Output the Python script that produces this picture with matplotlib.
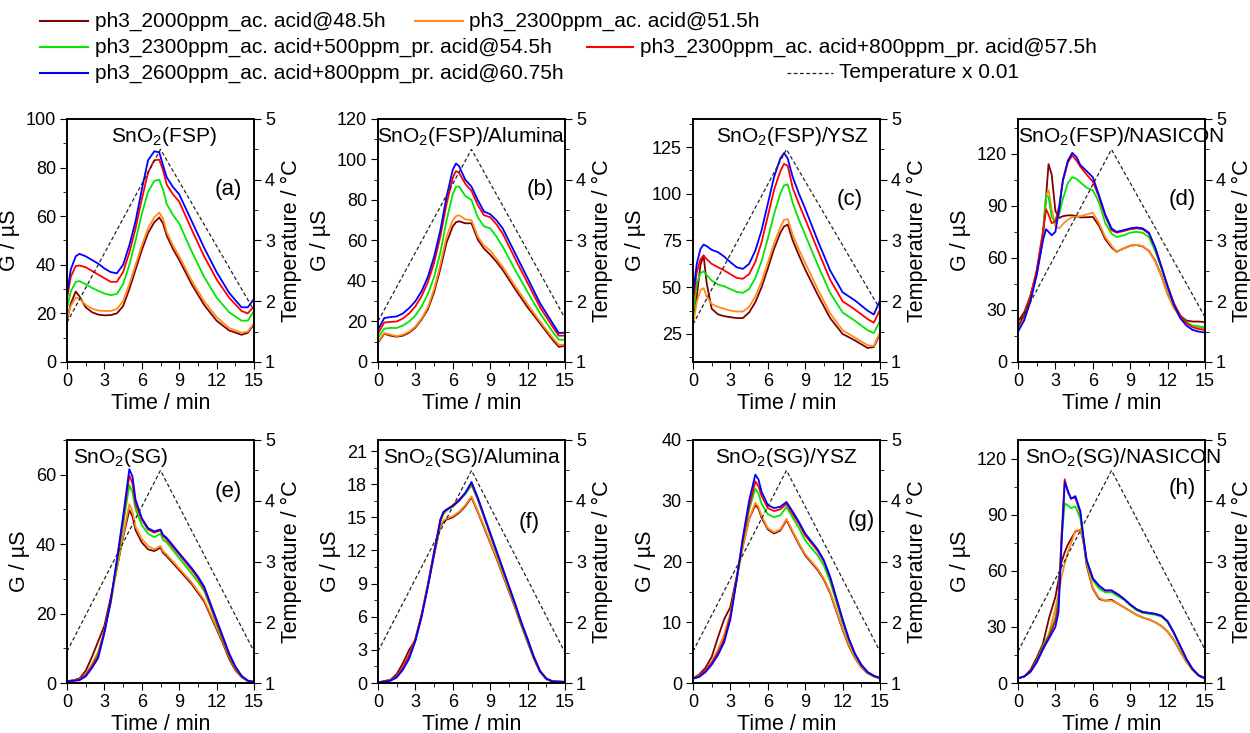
"""Conductance transients of SnO2 sensors under PH3 / acid exposure, 8 panels."""

import matplotlib
matplotlib.use("Agg")
import matplotlib.pyplot as plt
from matplotlib.lines import Line2D
from matplotlib.ticker import MultipleLocator

# ---------------------------------------------------------------------------
# Data
# series order: 1 = 2000ppm ac., 2 = 2300ppm ac., 3 = 2300 ac.+500 pr.,
#               4 = 2300 ac.+800 pr., 5 = 2600 ac.+800 pr.
# ---------------------------------------------------------------------------

labels = [
    "ph3_2000ppm_ac. acid@48.5h",
    "ph3_2300ppm_ac. acid@51.5h",
    "ph3_2300ppm_ac. acid+500ppm_pr. acid@54.5h",
    "ph3_2300ppm_ac. acid+800ppm_pr. acid@57.5h",
    "ph3_2600ppm_ac. acid+800ppm_pr. acid@60.75h",
]
colors = ["#800000", "#FF8C1A", "#00E600", "#FF0000", "#0000FF"]

temp_t = [0, 7.5, 15]

# (a) SnO2(FSP)
t_a = [0, 0.3, 0.7, 1, 1.5, 2, 2.5, 3, 3.5, 4, 4.5, 5, 5.5, 6, 6.5, 7, 7.4, 7.7,
       8, 8.5, 9, 10, 11, 12, 13, 14, 14.5, 15]
a1 = [17, 24, 29, 27, 22.5, 20.5, 19.5, 19.2, 19.3, 20, 23, 30, 38, 46, 53, 57.5,
      59.5, 57, 52, 46.5, 42, 32, 23.5, 17, 13, 11.2, 12, 15.5]
a2 = [18, 23, 26.5, 26, 23.5, 22, 21.2, 21, 21, 21.8, 25, 32, 40, 48, 55, 59.5,
      61.5, 59, 53.5, 48, 43.5, 33.5, 25, 18.5, 14, 12, 12.5, 16]
a3 = [22, 29, 33, 33.3, 32, 30.5, 29.3, 28.2, 27.5, 28, 32, 40, 50, 61, 70, 74.5,
      75, 71, 65, 60.5, 57, 45.5, 35, 26.5, 20.5, 17, 17, 21]
a4 = [26, 35, 39.5, 39.7, 39, 37.5, 36, 34.5, 33, 33, 37, 45, 55, 67, 78, 83,
      83.3, 79, 73, 69, 66, 54.5, 43.5, 34, 26.5, 21, 20, 23]
a5 = [28, 38, 43.5, 44.5, 43.5, 42, 40.5, 38.5, 37, 36.5, 40, 48, 58, 71, 83, 86.7,
      86.3, 81, 76, 72, 69, 58, 47, 37, 28.5, 22.5, 22.5, 26]
temp_a = [1.65, 4.5, 1.85]

# (b) SnO2(FSP)/Alumina
t_b = [0, 0.5, 1, 1.5, 2, 2.5, 3, 3.5, 4, 4.5, 5, 5.5, 6, 6.25, 6.5, 7, 7.5, 8,
       8.5, 9, 9.5, 10, 11, 12, 13, 14, 14.5, 15]
b1 = [9.5, 14, 13, 12.5, 13, 14.5, 17, 21, 26, 34.5, 46, 59, 67, 69, 69.5, 68.5,
      68.5, 60.5, 56, 53, 49.5, 45.5, 36, 27, 19, 11, 7.5, 8]
b2 = [10, 14.3, 13.5, 12.8, 13.5, 15, 17.5, 21.5, 27, 36, 48, 62, 70, 72, 72.5,
      70.5, 70, 62, 57.5, 55, 51, 47, 37.5, 28.5, 20, 12, 8.5, 8.5]
b3 = [12, 16.5, 16.8, 16.8, 18, 20, 23, 27.5, 33.5, 42, 54, 70, 83, 86.5, 86.7,
      82, 80, 71.5, 67, 66, 62, 57, 45.5, 34.5, 24, 15, 11, 11]
b4 = [14, 19.5, 19.8, 20, 21.5, 24, 27.5, 32.5, 39.5, 49, 62, 78, 91, 94.3, 93.5,
      88, 84.5, 77.5, 72.5, 71.5, 68, 63.5, 51, 39, 27, 17.5, 13, 13]
b5 = [16, 21.7, 22.2, 22.5, 24, 26.6, 30, 35, 42, 52, 65, 81.7, 95, 98, 96.8, 90,
      86.6, 80, 74.3, 73, 70, 66, 53.7, 41.4, 29, 19.2, 14.3, 14.5]
temp_b = [1.67, 4.5, 1.72]

# (c) SnO2(FSP)/YSZ
t_c = [0, 0.3, 0.6, 0.85, 1.1, 1.5, 2, 2.5, 3, 3.5, 4, 4.5, 5, 5.5, 6, 6.5, 7,
       7.3, 7.6, 8, 8.5, 9, 10, 11, 12, 13, 14, 14.5, 15]
c1 = [32, 45, 62, 67, 52, 38.5, 35.5, 34.5, 34, 33.5, 33.5, 36.5, 42, 50, 60, 70.5,
      79, 82.5, 83.5, 75, 67, 59.5, 46, 33.5, 25, 21.5, 17.5, 18, 25]
c2 = [30, 42, 48.5, 49.5, 45, 41, 39.5, 38.5, 37.5, 37, 37, 39.5, 45, 53, 63, 73.5,
      82, 86, 86.5, 78, 70, 63, 49, 36, 27, 23, 19, 18.5, 26]
c3 = [36, 52, 57.5, 58.5, 56.5, 53.5, 51.5, 50.5, 49, 47.5, 47, 49, 55, 64, 76, 89,
      100, 104.5, 105, 95, 86, 78, 62, 47, 36.5, 32, 27, 25.5, 32]
c4 = [42, 58, 65, 67, 65, 62.5, 60.7, 59, 57, 55, 54.5, 57, 63.5, 74, 88, 102, 112,
      116, 115, 103, 94.5, 86.5, 70, 54, 42.5, 38, 33, 31, 38]
c5 = [46, 62.5, 70.5, 72.8, 72, 70, 68.8, 66.4, 63.4, 60.7, 59.8, 62.5, 69.6, 80.4,
      94.6, 108.9, 118.8, 121.8, 118.8, 108.9, 100, 92, 75, 59, 47.3, 42.9, 37.5,
      35.4, 42.9]
temp_c = [1.62, 4.5, 1.87]

# (d) SnO2(FSP)/NASICON
t_d = [0, 0.5, 1, 1.5, 2, 2.25, 2.45, 2.7, 3, 3.3, 3.6, 4, 4.35, 4.7, 5, 5.5, 6,
       6.5, 7, 7.5, 7.9, 8.5, 9, 9.5, 10, 10.5, 11, 11.5, 12, 12.5, 13, 13.5, 14,
       14.5, 15]
d1 = [23.3, 28.7, 38.3, 51.7, 70.8, 95, 114, 108, 87, 83, 84, 84.5, 84.5, 84, 83.3,
      83.4, 83.6, 78.5, 70.8, 66, 63.5, 65.5, 67, 67.4, 66.6, 64, 58.4, 49.8, 39.2,
      31.6, 26.8, 23.9, 23.3, 23.3, 23]
d2 = [20, 26, 37, 51, 72, 96, 99, 88, 78, 77, 79.5, 82, 83.5, 83.5, 84, 85, 86, 80,
      72, 67, 63.5, 65.5, 67, 67.5, 66.8, 64, 58, 49.5, 39, 31, 26, 22.5, 20.5, 20,
      19.5]
d3 = [20, 27, 38, 52, 75, 96, 95, 84, 80, 85, 94, 103, 106.5, 105.5, 103.5, 100.5,
      99, 92, 80, 74, 72, 73, 74.5, 75, 74.5, 72, 64, 54, 43, 33, 27, 23, 21, 20.5,
      20]
d4 = [20, 27, 38, 53, 75, 88, 85, 80, 81, 90, 104, 115, 119, 116, 112.5, 108, 104,
      95, 84, 76, 74.5, 75.5, 76.5, 77, 76.5, 74, 66, 55, 44, 34, 27, 22.5, 20, 19,
      18.5]
d5 = [17.5, 24, 35, 50, 70, 76.5, 75, 73, 75, 88, 105, 116, 120.5, 118, 113.5, 110,
      106.5, 96, 85, 77, 75, 76, 77, 77.5, 77, 74.5, 66, 55, 43.5, 33, 25.5, 21,
      18.5, 17.5, 17]
temp_d = [1.6, 4.5, 1.74]

# (e) SnO2(SG)
t_e = [0, 0.5, 1, 1.5, 2, 2.5, 3, 3.5, 4, 4.5, 5, 5.25, 5.5, 6, 6.5, 7, 7.5, 7.7,
       8, 9, 10, 10.5, 11, 11.5, 12, 12.5, 13, 13.5, 14, 14.5, 15]
e1 = [0.5, 0.8, 1.3, 3.5, 7.5, 12, 16.5, 24.5, 33, 42, 49.8, 48, 44, 40.5, 38.5,
      38, 39, 37.5, 36.5, 32.5, 28.5, 26, 23.5, 19.5, 15.5, 11.5, 7, 3.7, 1.7, 0.6,
      0.3]
e2 = [0.5, 0.7, 1, 2.5, 5.5, 9, 15, 23, 33, 42.5, 51.5, 49.5, 45, 41.5, 39.5, 38.5,
      39.5, 38, 37, 33, 29, 26.5, 24, 20, 16, 12, 7.5, 4, 1.8, 0.6, 0.3]
e3 = [0.5, 0.7, 1, 2.3, 5, 8.5, 15, 23, 34, 45.5, 57, 55, 50, 45.5, 43, 42, 43,
      41.2, 40.5, 36, 31.5, 29.2, 26.5, 22, 17, 12.3, 7.8, 4.2, 1.8, 0.6, 0.3]
e4 = [0.5, 0.7, 1, 2.2, 4.8, 8, 15, 23.5, 35, 47, 59.8, 57.5, 51.5, 47, 44.2, 43.3,
      44, 42.3, 41.3, 37, 32.6, 30.2, 27.2, 22.5, 17.6, 12.8, 8, 4.4, 1.9, 0.6, 0.3]
e5 = [0.5, 0.6, 0.8, 1.9, 4.3, 7.2, 14.4, 23.5, 35.5, 48, 61.6, 59.5, 52.8, 47.5,
      44.6, 43.7, 44.2, 42.7, 41.8, 37.4, 33.1, 30.7, 27.8, 23, 18.2, 13.4, 8.6,
      4.8, 2.1, 0.7, 0.3]
temp_e = [1.52, 4.5, 1.52]

# (f) SnO2(SG)/Alumina
t_f = [0, 1, 1.5, 2, 2.5, 3, 3.5, 4, 4.5, 5, 5.25, 5.5, 6, 6.5, 7, 7.5, 8, 8.5, 9,
       9.5, 10, 10.5, 11, 11.5, 12, 12.5, 13, 13.5, 14, 15]
f1 = [0.05, 0.3, 0.8, 1.8, 3, 3.9, 6.1, 8.8, 11.6, 14.2, 14.6, 14.8, 15, 15.4, 16,
      16.8, 15.5, 14.1, 12.7, 11.3, 9.8, 8.3, 6.8, 5.2, 3.7, 2.2, 1, 0.35, 0.12, 0.1]
f2 = [0.05, 0.25, 0.6, 1.4, 2.5, 4, 6.2, 8.9, 11.7, 14.3, 14.7, 14.9, 15.1, 15.5,
      16.1, 16.9, 15.6, 14.2, 12.8, 11.4, 9.9, 8.4, 6.9, 5.3, 3.8, 2.3, 1, 0.35,
      0.12, 0.1]
f3 = [0.05, 0.25, 0.6, 1.4, 2.5, 4, 6.2, 8.9, 11.9, 14.6, 15.3, 15.6, 16, 16.5,
      17.1, 17.9, 16.6, 15, 13.4, 11.8, 10.2, 8.6, 7, 5.3, 3.8, 2.3, 1.05, 0.4, 0.15,
      0.1]
f4 = [0.05, 0.25, 0.6, 1.4, 2.5, 4, 6.2, 8.9, 11.9, 14.7, 15.4, 15.7, 16.1, 16.6,
      17.2, 18.1, 16.7, 15.1, 13.5, 11.9, 10.3, 8.7, 7.1, 5.4, 3.9, 2.3, 1.05, 0.4,
      0.15, 0.1]
f5 = [0.05, 0.2, 0.5, 1.2, 2.2, 3.8, 6, 8.7, 11.7, 14.8, 15.5, 15.7, 16, 16.5,
      17.2, 18.2, 16.8, 15.2, 13.6, 12, 10.4, 8.8, 7.2, 5.5, 4, 2.4, 1.1, 0.4, 0.15,
      0.1]
temp_f = [1.52, 4.5, 1.5]

# (g) SnO2(SG)/YSZ
t_g = [0, 0.5, 1, 1.5, 2, 2.5, 3, 3.5, 4, 4.5, 5, 5.25, 5.5, 6, 6.5, 7, 7.5, 8,
       8.5, 9, 9.5, 10, 10.5, 11, 11.5, 12, 12.5, 13, 13.5, 14, 14.5, 15]
g1 = [0.8, 1.4, 2.5, 4.3, 7.5, 10.5, 12.5, 17.5, 22.5, 27, 29.3, 28.7, 27.2, 25.3,
      24.6, 25.1, 26.8, 24.8, 22.8, 21, 19.8, 18.6, 17, 14.8, 11.8, 8.8, 6.1, 4.1,
      2.6, 1.6, 1.1, 0.8]
g2 = [0.8, 1.2, 2, 3.5, 5.5, 8, 11.5, 17, 22.5, 27, 29.7, 29, 27.5, 25.5, 24.8,
      25.3, 27, 25, 23, 21.2, 20, 18.8, 17.2, 15, 12, 9, 6.3, 4.2, 2.7, 1.6, 1.1, 0.8]
g3 = [0.8, 1.1, 2, 3.3, 5, 7.2, 11, 17, 23.5, 28.5, 32, 31.2, 29.5, 27.8, 27.3,
      27.6, 29, 27.2, 25.5, 23.5, 22.2, 21, 19.3, 16.7, 13.3, 10, 7, 4.6, 2.9, 1.7,
      1.1, 0.8]
g4 = [0.8, 1.1, 2, 3.3, 5, 7.2, 11, 17, 23.5, 29, 33.2, 32.4, 30.8, 28.8, 28.3,
      28.6, 29.5, 27.8, 26.2, 24.3, 23, 21.7, 20, 17.3, 13.8, 10.3, 7.2, 4.7, 3, 1.8,
      1.2, 0.8]
g5 = [0.7, 1, 1.8, 3, 4.6, 6.7, 10.5, 17, 24, 30, 34.3, 33.5, 31.5, 29.3, 28.8, 29,
      29.8, 28.2, 26.5, 24.6, 23.3, 22, 20.2, 17.5, 14, 10.5, 7.3, 4.8, 3, 1.8, 1.2,
      0.8]
temp_g = [1.52, 4.5, 1.52]

# (h) SnO2(SG)/NASICON
t_h = [0, 0.5, 1, 1.5, 2, 2.5, 3, 3.25, 3.5, 3.75, 4, 4.25, 4.6, 5, 5.25, 5.5, 6,
       6.5, 7, 7.5, 8, 8.5, 9, 9.5, 10, 10.5, 11, 11.5, 12, 12.5, 13, 13.5, 14,
       14.5, 15]
h1 = [2.5, 3.5, 7, 13.5, 21, 35, 46, 55, 65, 70, 74, 77, 81, 82, 76, 63, 50.5, 45,
      44, 44.5, 42.5, 40.5, 38.5, 36.5, 35, 34, 32.5, 30.5, 27.5, 23, 17, 11.5, 7,
      4, 2.5]
h2 = [2.5, 3.5, 6, 11, 18, 27, 40, 48, 57, 64, 70, 74.5, 81.5, 82, 76, 64, 51, 45.5,
      44, 44, 42.5, 40.5, 38.5, 36.5, 35, 34, 32.5, 30.5, 27.5, 23, 17, 11.5, 7, 4,
      2.5]
h3 = [2.5, 3.5, 6, 12, 20, 26, 35, 45, 78, 96, 95, 93.5, 94.5, 88, 76, 65, 55, 50.5,
      48.5, 48.5, 46.5, 44.5, 41.5, 39, 37.5, 37, 36.5, 35.5, 32.5, 26.5, 19.5, 12.5,
      7.5, 4, 2.5]
h4 = [2.5, 3.5, 6, 11.5, 19, 25, 33, 42, 80, 109, 102, 99, 99, 91, 77, 65.5, 56, 52,
      49.5, 49.5, 47.5, 45, 42, 39.5, 38, 37.5, 37, 36, 33, 27, 20, 13, 7.5, 4, 2.5]
h5 = [2.5, 3.5, 6, 11, 18, 24, 30, 38, 75, 107.5, 103, 98.5, 100, 92, 78, 66, 56, 52,
      49.5, 49.5, 47.5, 45, 42, 39.5, 38, 37.5, 37, 36, 33, 27, 20, 13, 7.5, 4, 2.5]
temp_h = [1.52, 4.5, 1.55]


def _set_style():
    plt.rcParams.update({
        "font.family": ["Liberation Sans", "DejaVu Sans"],
        "mathtext.fontset": "custom",
        "mathtext.rm": "Liberation Sans",
        "mathtext.it": "Liberation Sans:italic",
        "mathtext.default": "regular",
        "font.size": 13,
        "axes.linewidth": 1.2,
        "xtick.direction": "out",
        "ytick.direction": "out",
        "xtick.major.size": 5,
        "ytick.major.size": 5,
        "xtick.minor.size": 3,
        "ytick.minor.size": 3,
        "xtick.major.pad": 3,
        "ytick.major.pad": 3,
        "xtick.labelsize": 13,
        "ytick.labelsize": 13,
    })


def draw_panel(fig, rect, t, series, temp, ylim, ymajor, title, title_x, letter,
               letter_xy):
    ax = fig.add_axes(rect)
    for y, c in zip(series, colors):
        ax.plot(t, y, color=c, lw=1.3)
    ax.set_xlim(0, 15)
    ax.set_ylim(*ylim)
    ax.xaxis.set_major_locator(MultipleLocator(3))
    ax.xaxis.set_minor_locator(MultipleLocator(1.5))
    ax.yaxis.set_major_locator(MultipleLocator(ymajor))
    ax.yaxis.set_minor_locator(MultipleLocator(ymajor / 2))
    ax.set_xlabel("Time / min", fontsize=15.5, labelpad=2)
    ax.set_ylabel("G / µS", fontsize=15.5, labelpad=4)

    ax2 = ax.twinx()
    ax2.plot(temp_t, temp, color="#222222", lw=0.9, linestyle=(0, (3, 2)))
    ax2.set_ylim(1, 5)
    ax2.yaxis.set_major_locator(MultipleLocator(1))
    ax2.yaxis.set_minor_locator(MultipleLocator(0.5))
    ax2.set_ylabel("Temperature / °C", fontsize=15.5, labelpad=4)

    ha = "left" if title_x < 0.2 else "center"
    ax.text(title_x, 0.975, title, transform=ax.transAxes, ha=ha, va="top",
            fontsize=15, clip_on=False)
    ax.text(letter_xy[0], letter_xy[1], letter, transform=ax.transAxes,
            ha="center", va="center", fontsize=16)
    return ax


def draw_legend(fig):
    W, H = 1250.0, 733.0
    entries = [
        (21, 40, 88, 95, colors[0], "-", labels[0]),
        (21, 415, 463, 469, colors[1], "-", labels[1]),
        (47, 40, 88, 95, colors[2], "-", labels[2]),
        (47, 587, 633, 640, colors[3], "-", labels[3]),
        (73, 40, 88, 95, colors[4], "-", labels[4]),
        (73, 787, 833, 839, "#222222", (0, (3, 2)), "Temperature x 0.01"),
    ]
    for y, x0, x1, xt, c, ls, lab in entries:
        fy = 1 - y / H
        lw = 0.9 if ls != "-" else 1.5
        fig.add_artist(Line2D([x0 / W, x1 / W], [fy, fy], color=c, lw=lw,
                              linestyle=ls, transform=fig.transFigure))
        fig.text(xt / W, fy, lab, ha="left", va="center", fontsize=15)


def main():
    _set_style()
    fig = plt.figure(figsize=(12.5, 7.33), dpi=100)

    W, H = 1250.0, 733.0
    w, h = 187 / W, 243 / H
    lefts = [67 / W, 378 / W, 693 / W, 1018 / W]
    b_top = (H - 362) / H
    b_bot = (H - 683) / H

    panels = [
        (t_a, [a1, a2, a3, a4, a5], temp_a, (0, 100), 20, "SnO$_2$(FSP)", 0.52,
         "(a)", (0.86, 0.71)),
        (t_b, [b1, b2, b3, b4, b5], temp_b, (0, 120), 20,
         "SnO$_2$(FSP)/Alumina", 0.5, "(b)", (0.87, 0.71)),
        (t_c, [c1, c2, c3, c4, c5], temp_c, (10, 140), 25, "SnO$_2$(FSP)/YSZ",
         0.53, "(c)", (0.84, 0.67)),
        (t_d, [d1, d2, d3, d4, d5], temp_d, (0, 140), 30,
         "SnO$_2$(FSP)/NASICON", 0.55, "(d)", (0.88, 0.67)),
        (t_e, [e1, e2, e3, e4, e5], temp_e, (0, 70), 20, "SnO$_2$(SG)", 0.03,
         "(e)", (0.86, 0.79)),
        (t_f, [f1, f2, f3, f4, f5], temp_f, (0, 22), 3, "SnO$_2$(SG)/Alumina",
         0.5, "(f)", (0.81, 0.66)),
        (t_g, [g1, g2, g3, g4, g5], temp_g, (0, 40), 10, "SnO$_2$(SG)/YSZ", 0.5,
         "(g)", (0.9, 0.67)),
        (t_h, [h1, h2, h3, h4, h5], temp_h, (0, 130), 30, "SnO$_2$(SG)/NASICON",
         0.56, "(h)", (0.88, 0.8)),
    ]
    for i, p in enumerate(panels):
        bottom = b_top if i < 4 else b_bot
        rect = [lefts[i % 4], bottom, w, h]
        draw_panel(fig, rect, *p)

    draw_legend(fig)
    fig.savefig("out.png", dpi=100)
    plt.close(fig)


if __name__ == "__main__":
    main()
